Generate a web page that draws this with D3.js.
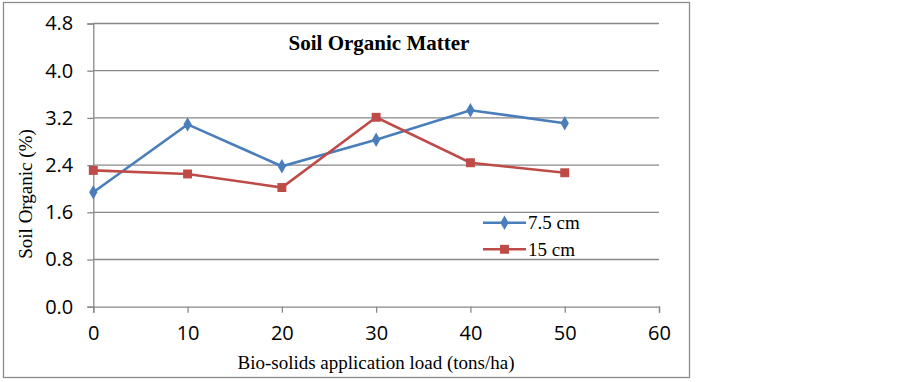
<!DOCTYPE html>
<html>
<head>
<meta charset="utf-8">
<script src="https://cdn.jsdelivr.net/npm/d3@7"></script>
<style>
  body { margin: 0; background: #fff; }
  .tick text { font-family: "Open Sans", Lato, sans-serif; font-size: 20px; fill: #000; }
  .serif { font-family: "Liberation Serif", "Times New Roman", serif; fill: #000; }
</style>
</head>
<body>
<div id="chart"></div>
<script>
const loads = [0, 10, 20, 30, 40, 50];
const depth75 = [1.94, 3.09, 2.38, 2.83, 3.33, 3.11];
const depth15 = [2.31, 2.25, 2.02, 3.21, 2.44, 2.27];
const yTicks = [0, 0.8, 1.6, 2.4, 3.2, 4.0, 4.8];
const xTicks = [0, 10, 20, 30, 40, 50, 60];

const width = 903, height = 382;
const margin = {top: 23.5, right: 244, bottom: 75.3, left: 93.3};
const w = width - margin.left - margin.right;
const h = height - margin.top - margin.bottom;

const svg = d3.select("#chart").append("svg")
  .attr("width", width)
  .attr("height", height);

// outer frame
svg.append("rect")
  .attr("x", 3.5).attr("y", 2.5)
  .attr("width", 686).attr("height", 375)
  .attr("fill", "none")
  .attr("stroke", "#8c8c8c")
  .attr("stroke-width", 1.3);

const chart = svg.append("g")
  .attr("transform", `translate(${margin.left}, ${margin.top})`);

const x = d3.scaleLinear().domain([0, 60]).range([0, w]);
const y = d3.scaleLinear().domain([0, 4.8]).range([h, 0]);

// grid lines
chart.selectAll("line.grid")
  .data(yTicks.filter(d => d > 0))
  .join("line")
  .attr("class", "grid")
  .attr("x1", 0).attr("x2", w)
  .attr("y1", d => y(d)).attr("y2", d => y(d))
  .attr("stroke", "#888")
  .attr("stroke-width", 1.3);

const yAxis = chart.append("g")
  .call(d3.axisLeft(y).tickValues(yTicks).tickFormat(d3.format(".1f")).tickSize(6).tickPadding(14));
const xAxis = chart.append("g")
  .attr("transform", `translate(0, ${h})`)
  .call(d3.axisBottom(x).tickValues(xTicks).tickSize(6).tickPadding(13));

[yAxis, xAxis].forEach(a => {
  a.select(".domain").attr("stroke", "#888").attr("stroke-width", 1.3);
  a.selectAll(".tick line").attr("stroke", "#888").attr("stroke-width", 1.3);
});

const series = [
  {name: "7.5 cm", values: depth75, color: "#4a7ebb", shape: d3.symbolDiamond, size: 60},
  {name: "15 cm", values: depth15, color: "#be4b48", shape: d3.symbolSquare, size: 80}
];

const line = d3.line()
  .x((d, i) => x(loads[i]))
  .y(d => y(d));

series.forEach(s => {
  chart.append("path")
    .datum(s.values)
    .attr("d", line)
    .attr("fill", "none")
    .attr("stroke", s.color)
    .attr("stroke-width", 2.6);

  chart.selectAll(null)
    .data(s.values)
    .join("path")
    .attr("transform", (d, i) => `translate(${x(loads[i])}, ${y(d)})`)
    .attr("d", d3.symbol().type(s.shape).size(s.size))
    .attr("fill", s.color);
});

// title
svg.append("text")
  .attr("class", "serif")
  .attr("x", 379).attr("y", 50)
  .attr("text-anchor", "middle")
  .attr("font-size", 21)
  .attr("font-weight", "bold")
  .text("Soil Organic Matter");

// axis titles
svg.append("text")
  .attr("class", "serif")
  .attr("x", 376).attr("y", 369)
  .attr("text-anchor", "middle")
  .attr("font-size", 19)
  .text("Bio-solids application load (tons/ha)");

svg.append("text")
  .attr("class", "serif")
  .attr("transform", "translate(32, 194) rotate(-90)")
  .attr("text-anchor", "middle")
  .attr("font-size", 19)
  .text("Soil Organic (%)");

// legend
const legend = svg.append("g").attr("transform", "translate(483, 222.7)");
series.forEach((s, i) => {
  const g = legend.append("g").attr("transform", `translate(0, ${i * 26.6})`);
  g.append("line")
    .attr("x1", 0).attr("x2", 43)
    .attr("stroke", s.color).attr("stroke-width", 2.6);
  g.append("path")
    .attr("transform", "translate(21.5, 0)")
    .attr("d", d3.symbol().type(s.shape).size(s.size))
    .attr("fill", s.color);
  g.append("text")
    .attr("class", "serif")
    .attr("x", 45).attr("y", 0)
    .attr("dy", "0.35em")
    .attr("font-size", 19)
    .text(s.name);
});
</script>
</body>
</html>
